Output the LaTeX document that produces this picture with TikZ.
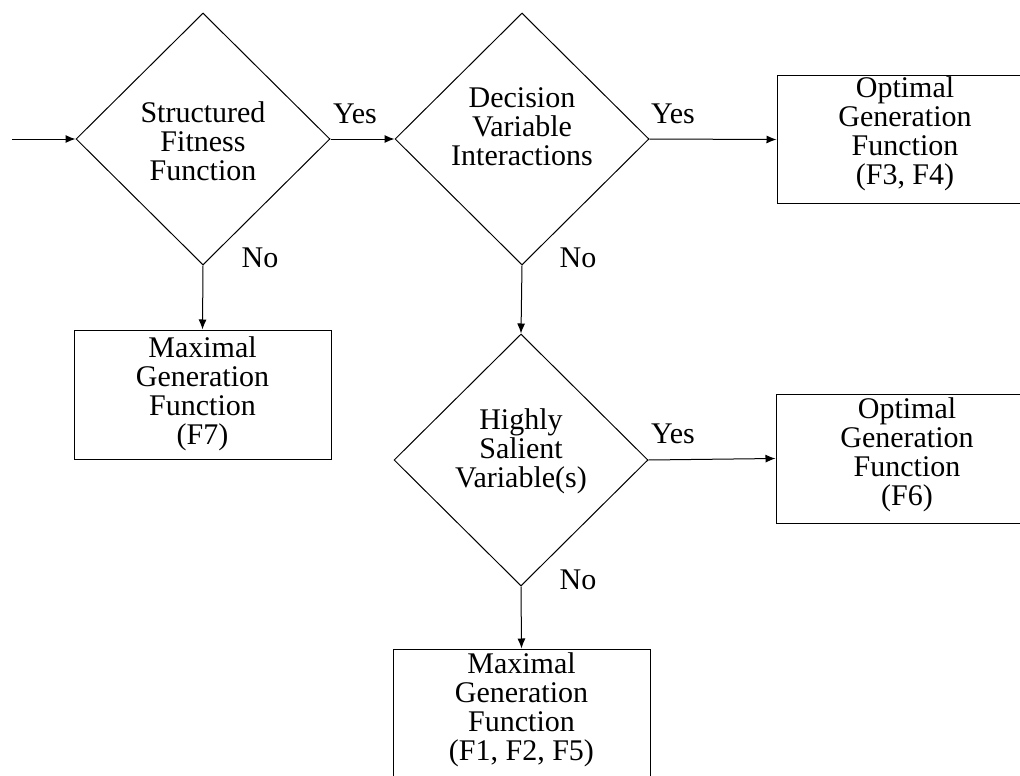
\documentclass[tikz,border=0pt]{standalone}
\usepackage{fontspec}
\setmainfont{Liberation Serif}
\usetikzlibrary{shapes.geometric,arrows.meta}
\tikzset{
  txt/.style={font=\fontsize{30}{29}\selectfont, align=center, inner sep=0pt},
  decision/.style={draw, shape=diamond, inner sep=0pt, minimum width=254pt, minimum height=252pt, line width=1pt},
  outbox/.style={draw, rectangle, inner sep=0pt, line width=1pt},
  flow/.style={line width=1pt, -{Latex[length=10pt,width=8pt]}},
  lbl/.style={font=\fontsize{30}{29}\selectfont, inner sep=0pt},
}
\begin{document}
\begin{tikzpicture}[x=1pt,y=-1pt]
\useasboundingbox (0,0) rectangle (1020,776);
% diamonds
\node[decision] (d1) at (203,139) {};
\node[decision] (d2) at (522,139) {};
\node[decision] (d3) at (521,460) {};
\node[txt] (t1) at (203,141) {Structured\\Fitness\\Function};
\node[txt] (t2) at (522,127) {Decision\\Variable\\Interactions};
\node[txt] (t3) at (521,451) {Highly\\Salient\\Variable(s)};
% boxes
\node[outbox, minimum width=256pt, minimum height=127pt] (b34) at (905,139.5) {};
\node[txt] (tb34) at (905,134) {Optimal\\Generation\\Function\\(F3, F4)};
\node[outbox, minimum width=262pt, minimum height=129pt] (b6) at (907,458.5) {};
\node[txt] (tb6) at (907,455) {Optimal\\Generation\\Function\\(F6)};
\node[outbox, minimum width=257pt, minimum height=129pt] (b7) at (202.5,394.5) {};
\node[txt] (tb7) at (202.5,394) {Maximal\\Generation\\Function\\(F7)};
\node[outbox, minimum width=257pt, minimum height=132pt] (b125) at (521.5,715) {};
\node[txt] (tb125) at (521.5,710) {Maximal\\Generation\\Function\\(F1, F2, F5)};
% connectors
\coordinate (start) at (12,139);
\draw[flow] (start) -- (d1.west);
\draw[flow] (d1.east) -- (d2.west);
\draw[flow] (d2.east) -- (b34.west);
\draw[flow] (d1.south) -- (b7.north);
\draw[flow] (d2.south) -- (d3.north);
\draw[flow] (d3.east) -- (b6.west);
\draw[flow] (d3.south) -- (b125.north);
% labels
\node[lbl] (y1) at (355,114) {Yes};
\node[lbl] (y2) at (673,114) {Yes};
\node[lbl] (y3) at (673,434) {Yes};
\node[lbl] (n1) at (260,258) {No};
\node[lbl] (n2) at (578,258) {No};
\node[lbl] (n3) at (578,580) {No};
\end{tikzpicture}
\end{document}
